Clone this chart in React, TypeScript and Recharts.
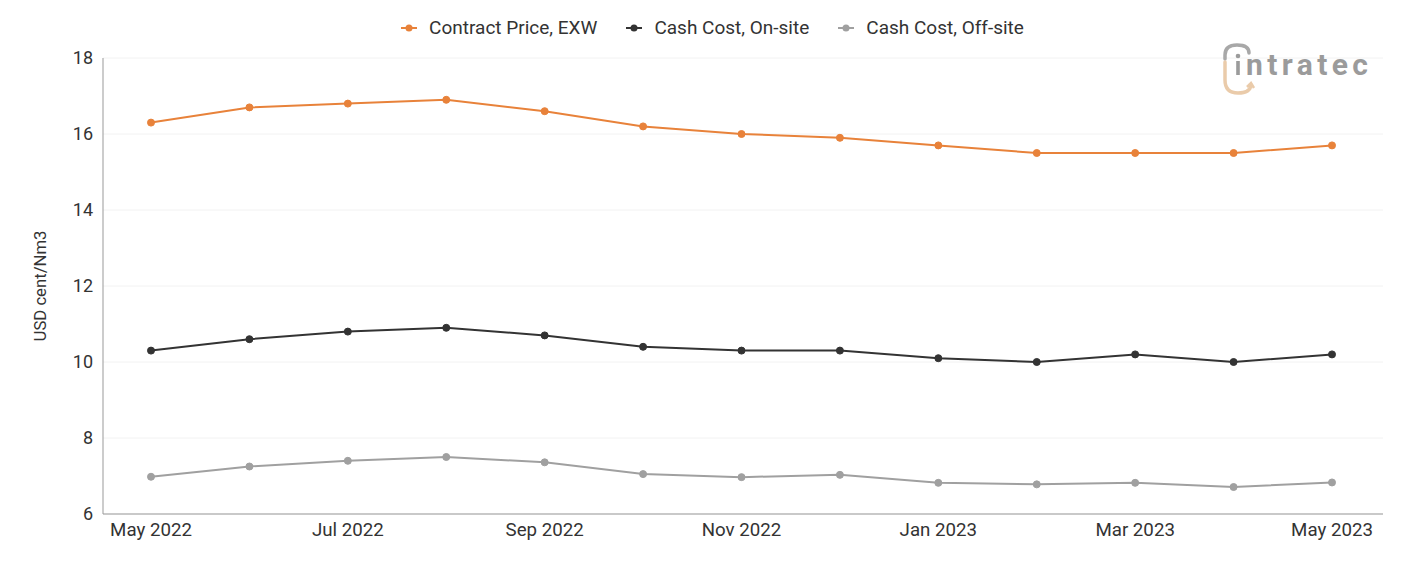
import React from 'react';
import { LineChart, Line, XAxis, YAxis, CartesianGrid, Legend } from 'recharts';

// Monthly price and cost series, USD cent per Nm3
const months = [
  'May 2022', 'Jun 2022', 'Jul 2022', 'Aug 2022', 'Sep 2022', 'Oct 2022', 'Nov 2022',
  'Dec 2022', 'Jan 2023', 'Feb 2023', 'Mar 2023', 'Apr 2023', 'May 2023',
];
const contractPrice = [16.3, 16.7, 16.8, 16.9, 16.6, 16.2, 16.0, 15.9, 15.7, 15.5, 15.5, 15.5, 15.7];
const cashCostOnSite = [10.3, 10.6, 10.8, 10.9, 10.7, 10.4, 10.3, 10.3, 10.1, 10.0, 10.2, 10.0, 10.2];
const cashCostOffSite = [6.98, 7.25, 7.4, 7.5, 7.36, 7.05, 6.97, 7.03, 6.82, 6.78, 6.82, 6.71, 6.83];
const yTicks = [6, 8, 10, 12, 14, 16, 18];

const seriesDefs = [
  { key: 'contract', name: 'Contract Price, EXW', color: '#E8823A', values: contractPrice },
  { key: 'onsite', name: 'Cash Cost, On-site', color: '#333333', values: cashCostOnSite },
  { key: 'offsite', name: 'Cash Cost, Off-site', color: '#A0A0A0', values: cashCostOffSite },
];

const data = months.map((month, i) => {
  const row: Record<string, string | number> = { month };
  seriesDefs.forEach((s) => {
    row[s.key] = s.values[i];
  });
  return row;
});

const FONT = 'Roboto, "Noto Sans", Arial, sans-serif';

const LegendContent = () => (
  <div
    style={{
      display: 'flex',
      justifyContent: 'center',
      alignItems: 'center',
      fontFamily: FONT,
      fontSize: 19,
      color: '#333',
      gap: 29,
    }}
  >
    {seriesDefs.map((s) => (
      <div key={s.key} style={{ display: 'flex', alignItems: 'center' }}>
        <svg width={16} height={10} style={{ marginRight: 12 }}>
          <line x1={0} y1={5} x2={16} y2={5} stroke={s.color} strokeWidth={2} />
          <circle cx={8} cy={5} r={3.5} fill={s.color} />
        </svg>
        <span>{s.name}</span>
      </div>
    ))}
  </div>
);

const Logo = () => (
  <svg width={170} height={62} style={{ position: 'absolute', left: 1200, top: 30 }}>
    {/* gray arch over the mark */}
    <path
      d="M 17 21 L 17 17 Q 17 7 29 7 Q 41 7 41 15"
      fill="none"
      stroke="#A8A8A8"
      strokeWidth={3.5}
      strokeLinecap="round"
    />
    {/* tan return arrow under the mark */}
    <path
      d="M 17 24 L 17 42 Q 17 55 30 55 Q 42 55 43 47"
      fill="none"
      stroke="#EACBAA"
      strokeWidth={3.5}
      strokeLinecap="round"
    />
    <path d="M 39 49 L 43 45 L 46 50" fill="none" stroke="#EACBAA" strokeWidth={2.5} />
    {/* letter i */}
    <circle cx={30} cy={18} r={2.3} fill="#9B9B9B" />
    <rect x={28.2} y={23} width={3.6} height={14} fill="#9B9B9B" />
    <text
      x={38}
      y={37}
      fontFamily={FONT}
      fontSize={30}
      fontWeight={700}
      fill="#9B9B9B"
      textLength={122}
      lengthAdjust="spacing"
    >
      ntratec
    </text>
  </svg>
);

export default function App() {
  return (
    <div style={{ position: 'relative', width: 1385, height: 545 }}>
      <LineChart
        width={1385}
        height={545}
        data={data}
        margin={{ top: 50, right: 10, bottom: 9, left: 0 }}
      >
        <CartesianGrid vertical={false} stroke="#F2F2F2" />
        <XAxis
          dataKey="month"
          interval={1}
          height={30}
          padding={{ left: 48, right: 51 }}
          tickLine={false}
          tickSize={0}
          tickMargin={9}
          axisLine={{ stroke: '#999' }}
          tick={{ fill: '#333', fontSize: 18.7, fontFamily: FONT }}
        />
        <YAxis
          width={95}
          domain={[6, 18]}
          ticks={yTicks}
          tickLine={false}
          tickSize={0}
          tickMargin={10}
          axisLine={{ stroke: '#999' }}
          tick={{ fill: '#333', fontSize: 18, fontFamily: FONT }}
          label={{
            value: 'USD cent/Nm3',
            angle: -90,
            position: 'insideLeft',
            offset: 32,
            style: { textAnchor: 'middle', fill: '#333', fontSize: 16.7, fontFamily: FONT },
          }}
        />
        <Legend
          verticalAlign="middle"
          align="center"
          layout="horizontal"
          content={<LegendContent />}
          wrapperStyle={{ top: 8, left: 12, width: 1385 }}
        />
        {seriesDefs.map((s) => (
          <Line
            key={s.key}
            type="linear"
            dataKey={s.key}
            name={s.name}
            stroke={s.color}
            strokeWidth={2}
            dot={{ r: 3.5, fill: s.color, stroke: s.color, strokeWidth: 1 }}
            activeDot={false}
            isAnimationActive={false}
          />
        ))}
      </LineChart>
      <Logo />
    </div>
  );
}
